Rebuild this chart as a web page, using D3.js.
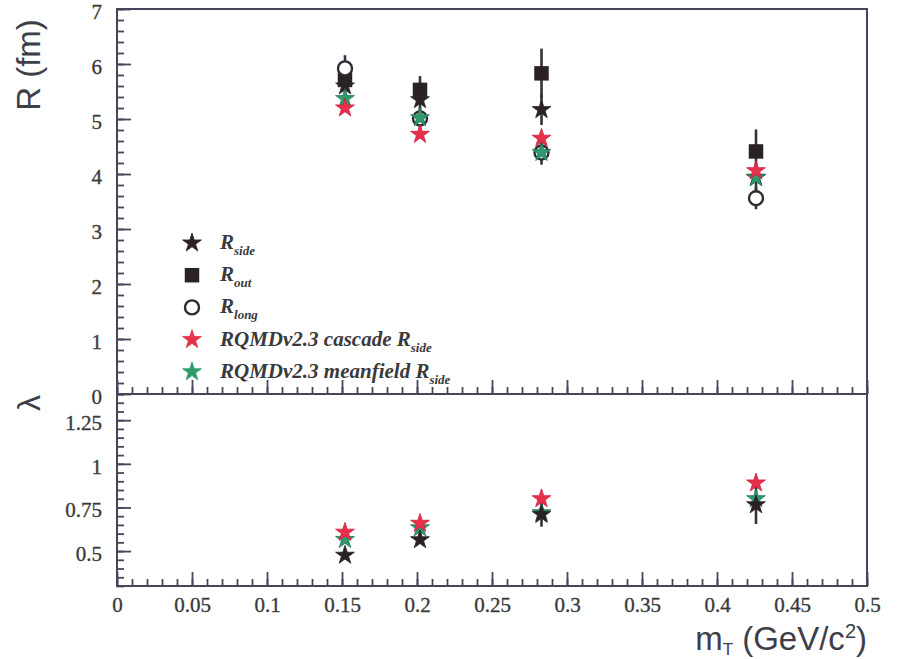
<!DOCTYPE html>
<html>
<head>
<meta charset="utf-8">
<script src="https://cdn.jsdelivr.net/npm/d3@7"></script>
<style>
  body { margin: 0; background: #fff; }
  svg { display: block; }
  .tick text { font-family: "Liberation Serif", "DejaVu Serif", serif; font-size: 21px; fill: #3a3a3a; stroke: #3a3a3a; stroke-width: 0.35; }
</style>
</head>
<body>
<div id="chart"></div>
<script>
// measured points, m_T in GeV/c^2
const mT = [0.152, 0.202, 0.283, 0.426]
const rSide = [5.6, 5.35, 5.17, 3.94]
const rSideErr = [0.2, 0.2, 0.28, 0.25]
const rOut = [5.71, 5.53, 5.83, 4.41]
const rOutErr = [0.2, 0.25, 0.45, 0.4]
const rLong = [5.92, 5.01, 4.39, 3.56]
const rLongErr = [0.24, 0.2, 0.22, 0.2]
const rqmdCascade = [5.2, 4.72, 4.65, 4.06]
const rqmdMeanfield = [5.37, 5.02, 4.39, 3.93]
// lambda panel
const lambda = [0.476, 0.565, 0.71, 0.765]
const lambdaErr = [0.02, 0.02, 0.07, 0.11]
const lambdaCascade = [0.608, 0.659, 0.8, 0.89]
const lambdaMeanfield = [0.566, 0.633, 0.72, 0.8]

const xTicks = d3.range(0, 0.5001, 0.05)
const rTicks = [0, 1, 2, 3, 4, 5, 6, 7]
const lambdaTicks = [0.5, 0.75, 1, 1.25]

const width = 900
const height = 659
const ink = '#2b2226'
const frame = '#44475c'
const red = '#e8304c'
const green = '#2f9a6c'

const svg = d3.select('#chart').append('svg')
  .attr('width', width)
  .attr('height', height)

const x = d3.scaleLinear().domain([0, 0.5]).range([117, 867])
const yR = d3.scaleLinear().domain([0, 7]).range([394, 9])
const yL = d3.scaleLinear().domain([0.3, 1.4]).range([586, 394])

let styleAxis = function (g) {
  g.select('.domain').remove()
  g.selectAll('.tick line').attr('stroke', frame).attr('stroke-width', 1.8)
}

// x axes (ticks point inward / up)
let drawXAxis = function (yPos, labels) {
  svg.append('g')
    .attr('transform', `translate(0,${yPos})`)
    .call(d3.axisBottom(x).tickValues(d3.range(0, 0.5001, 0.01)).tickSize(-7).tickFormat(''))
    .call(styleAxis)
  svg.append('g')
    .attr('transform', `translate(0,${yPos})`)
    .call(d3.axisBottom(x).tickValues(xTicks).tickSize(-14).tickPadding(11)
      .tickFormat(labels ? d => d3.format('~g')(+d.toFixed(2)) : ''))
    .call(styleAxis)
}
drawXAxis(394, false)
drawXAxis(586, true)

let drawYAxis = function (scale, minor, major, fmt) {
  svg.append('g')
    .attr('transform', 'translate(117,0)')
    .call(d3.axisLeft(scale).tickValues(minor).tickSize(-7).tickFormat(''))
    .call(styleAxis)
  svg.append('g')
    .attr('transform', 'translate(117,0)')
    .call(d3.axisLeft(scale).tickValues(major).tickSize(-14).tickPadding(15).tickFormat(fmt))
    .call(styleAxis)
    .selectAll('.tick text').attr('dy', '0.45em')
}
drawYAxis(yR, d3.range(0, 7.001, 0.2), rTicks, d3.format('d'))
drawYAxis(yL, d3.range(0.3, 1.4001, 0.05), lambdaTicks, d => String(d))

// frames
svg.append('rect').attr('x', 117).attr('y', 9).attr('width', 750).attr('height', 385)
  .attr('fill', 'none').attr('stroke', frame).attr('stroke-width', 2)
svg.append('rect').attr('x', 117).attr('y', 394).attr('width', 750).attr('height', 192)
  .attr('fill', 'none').attr('stroke', frame).attr('stroke-width', 2)

// axis titles
svg.append('text')
  .attr('transform', 'translate(40,65) rotate(-90)')
  .attr('text-anchor', 'middle')
  .style('font-family', '"Liberation Sans", Arial, sans-serif')
  .style('font-size', '33px')
  .attr('fill', '#3e3e48')
  .text('R (fm)')
svg.append('text')
  .attr('transform', 'translate(40,403) rotate(-90)')
  .attr('text-anchor', 'middle')
  .style('font-family', '"Liberation Sans", Arial, sans-serif')
  .style('font-size', '32px')
  .attr('fill', '#3e3e48')
  .text('λ')
let xt = svg.append('text')
  .attr('x', 867).attr('y', 650)
  .attr('text-anchor', 'end')
  .style('font-family', '"Liberation Sans", Arial, sans-serif')
  .style('font-size', '33px')
  .attr('fill', '#3e3e48')
xt.append('tspan').text('m')
xt.append('tspan').attr('dy', 5).style('font-size', '17px').text('T')
xt.append('tspan').attr('dy', -5).text(' (GeV/c')
xt.append('tspan').attr('dy', -12).style('font-size', '20px').text('2')
xt.append('tspan').attr('dy', 12).text(')')

const star = d3.symbol().type(d3.symbolStar).size(110)
const square = d3.symbol().type(d3.symbolSquare).size(210)

let errorBars = function (vals, errs, y) {
  svg.append('g').selectAll('line')
    .data(vals)
    .join('line')
    .attr('x1', (d, i) => x(mT[i]))
    .attr('x2', (d, i) => x(mT[i]))
    .attr('y1', (d, i) => y(d - errs[i]))
    .attr('y2', (d, i) => y(d + errs[i]))
    .attr('stroke', '#33313a')
    .attr('stroke-width', 2.6)
}
let stars = function (vals, y, fill, stroke) {
  svg.append('g').selectAll('path')
    .data(vals)
    .join('path')
    .attr('d', star)
    .attr('transform', (d, i) => `translate(${x(mT[i])},${y(d)})`)
    .attr('fill', fill)
    .attr('stroke', stroke)
    .attr('stroke-width', 0.8)
}

// top panel
errorBars(rOut, rOutErr, yR)
errorBars(rSide, rSideErr, yR)
errorBars(rLong, rLongErr, yR)
stars(rSide, yR, ink, ink)
svg.append('g').selectAll('path')
  .data(rOut)
  .join('path')
  .attr('d', square)
  .attr('transform', (d, i) => `translate(${x(mT[i])},${yR(d)})`)
  .attr('fill', ink)
svg.append('g').selectAll('circle')
  .data(rLong)
  .join('circle')
  .attr('cx', (d, i) => x(mT[i]))
  .attr('cy', d => yR(d))
  .attr('r', 7)
  .attr('fill', '#fff')
  .attr('stroke', '#2f2c36')
  .attr('stroke-width', 2.4)
stars(rqmdMeanfield, yR, green, '#23785a')
stars(rqmdCascade, yR, red, '#d0203e')

// bottom panel
errorBars(lambda, lambdaErr, yL)
stars(lambdaMeanfield, yL, green, '#23785a')
stars(lambdaCascade, yL, red, '#d0203e')
stars(lambda, yL, ink, ink)

// legend
const legend = [
  {sym: 'star', color: ink, text: 'R', sub: 'side'},
  {sym: 'square', color: ink, text: 'R', sub: 'out'},
  {sym: 'circle', color: ink, text: 'R', sub: 'long'},
  {sym: 'star', color: red, text: 'RQMDv2.3 cascade R', sub: 'side'},
  {sym: 'star', color: green, text: 'RQMDv2.3 meanfield R', sub: 'side'}
]
legend.forEach((d, i) => {
  let ly = 243 + i * 32.2
  if (d.sym === 'star') {
    svg.append('path').attr('d', star).attr('transform', `translate(192,${ly})`)
      .attr('fill', d.color).attr('stroke', d.color).attr('stroke-width', 0.8)
  } else if (d.sym === 'square') {
    svg.append('path').attr('d', square).attr('transform', `translate(192,${ly})`).attr('fill', d.color)
  } else {
    svg.append('circle').attr('cx', 192).attr('cy', ly).attr('r', 7)
      .attr('fill', '#fff').attr('stroke', '#2f2c36').attr('stroke-width', 2.4)
  }
  let t = svg.append('text')
    .attr('x', 220).attr('y', ly + 6)
    .style('font-family', '"Liberation Serif", "DejaVu Serif", serif')
    .style('font-style', 'italic')
    .style('font-weight', 'bold')
    .style('font-size', '21px')
    .attr('fill', '#3a3a3a')
  t.append('tspan').text(d.text)
  t.append('tspan').attr('dy', 6).style('font-size', '13px').text(d.sub)
})
</script>
</body>
</html>
